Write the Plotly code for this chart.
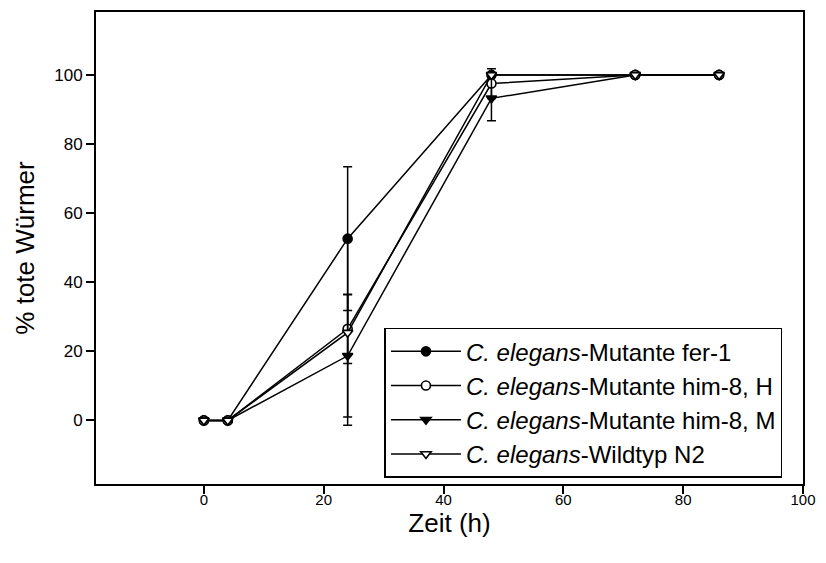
import plotly.graph_objects as go

# Zeitpunkte (h)
zeit = [0, 4, 24, 48, 72, 86]

# Anteil toter Würmer (%) je Stamm
fer1 = [0, 0, 52.6, 100, 100, 100]
him8_h = [0, 0, 26.5, 97.5, 100, 100]
him8_m = [0, 0, 18.7, 93.2, 100, 100]
wildtyp = [0, 0, 25.4, 100, 100, 100]

# Standardabweichungen
fer1_err = [0, 0, 20.8, 0, 0, 0]
him8_h_err = [0, 0, 10.0, 4.3, 0, 0]
him8_m_err = [0, 0, 17.7, 6.5, 0, 0]
wildtyp_err = [0, 0, 26.8, 0, 0, 0]

names = [
    "<i>C. elegans</i>-Mutante fer-1",
    "<i>C. elegans</i>-Mutante him-8, H",
    "<i>C. elegans</i>-Mutante him-8, M",
    "<i>C. elegans</i>-Wildtyp N2",
]

x_ticks = [0, 20, 40, 60, 80, 100]
y_ticks = [0, 20, 40, 60, 80, 100]

series = [
    (fer1, fer1_err, "circle", "black"),
    (him8_h, him8_h_err, "circle", "white"),
    (him8_m, him8_m_err, "triangle-down", "black"),
    (wildtyp, wildtyp_err, "triangle-down", "white"),
]

fig = go.Figure()
for name, (vals, errs, sym, fill) in zip(names, series):
    fig.add_trace(go.Scatter(
        x=zeit, y=vals, name=name, mode="lines+markers",
        line=dict(color="black", width=1.5),
        marker=dict(symbol=sym, size=9, color=fill,
                    line=dict(color="black", width=1.6)),
        error_y=dict(type="data", array=errs, visible=True,
                     color="black", thickness=1.5, width=4.5),
    ))

fig.update_layout(
    width=826, height=563,
    margin=dict(l=96, r=18, t=10, b=79),
    paper_bgcolor="white", plot_bgcolor="white",
    font=dict(family="Liberation Sans, Arial, sans-serif", color="black"),
    showlegend=True,
    legend=dict(
        x=0.408, y=0.331, xanchor="left", yanchor="top",
        bordercolor="black", borderwidth=1.5, bgcolor="white",
        font=dict(size=24, color="black"),
        itemwidth=70, tracegroupgap=0,
    ),
)
fig.update_xaxes(
    range=[-18, 100], tickmode="array", tickvals=x_ticks,
    showgrid=False, zeroline=False,
    showline=True, linecolor="black", linewidth=2, mirror=True,
    ticks="outside", ticklen=8, tickwidth=1.5, tickcolor="black",
    tickfont=dict(size=15), ticklabelstandoff=-7,
    title=dict(text="Zeit (h)", font=dict(size=26), standoff=6),
)
fig.update_yaxes(
    range=[-18.4, 118.2], tickmode="array", tickvals=y_ticks,
    showgrid=False, zeroline=False,
    showline=True, linecolor="black", linewidth=2, mirror=True,
    ticks="outside", ticklen=8, tickwidth=1.5, tickcolor="black",
    tickfont=dict(size=17),
    title=dict(text="% tote Würmer", font=dict(size=26), standoff=12),
)

fig.write_html("out.html")
